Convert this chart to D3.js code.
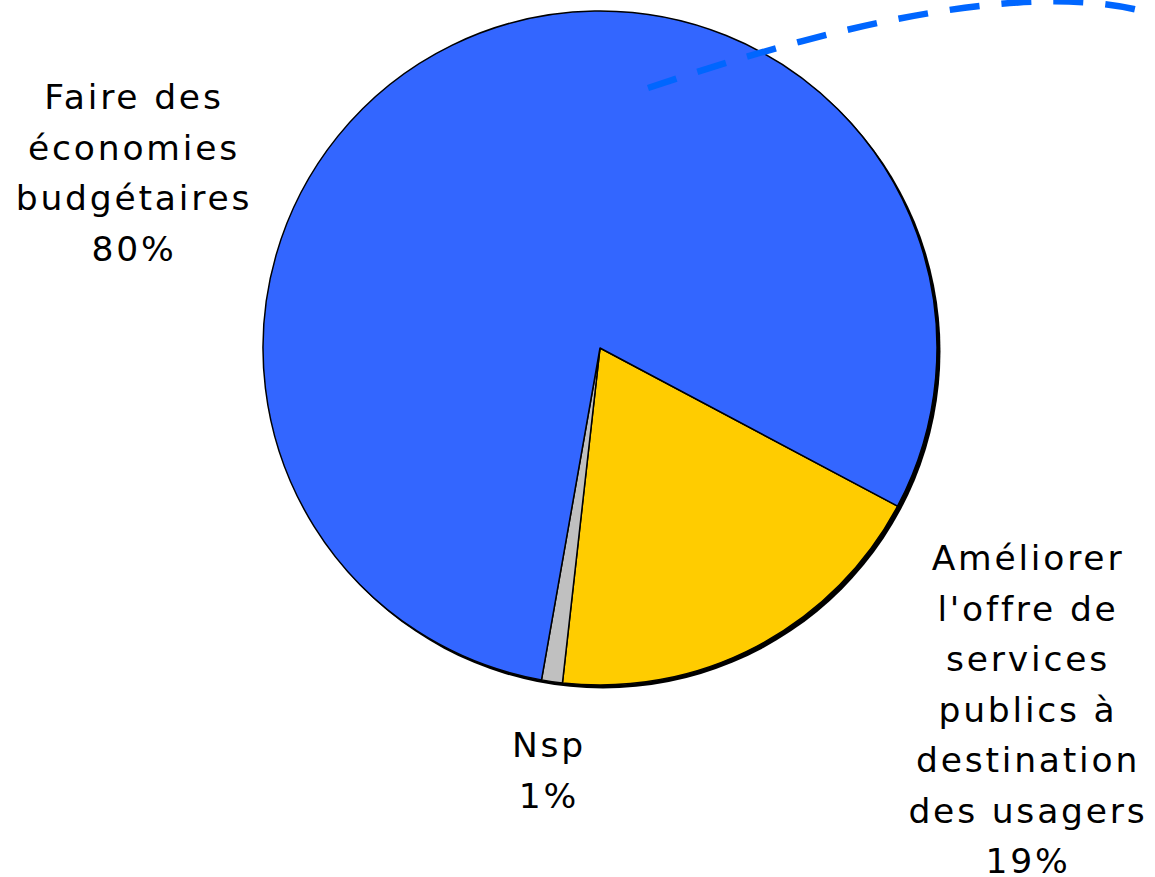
<!DOCTYPE html>
<html>
<head>
<meta charset="utf-8">
<script src="https://cdn.jsdelivr.net/npm/d3@7"></script>
<style>
  html, body { margin: 0; padding: 0; background: #fff; overflow: hidden; }
  text { font-family: "DejaVu Sans", Verdana, sans-serif; }
</style>
</head>
<body>
<script>
const width = 1155;
const height = 877;

// slice order follows the picture, clockwise from the lower right
const categories = ['Améliorer l\'offre de services publics à destination des usagers', 'Nsp', 'Faire des économies budgétaires'];
const values = [19, 1, 80];
const colors = ['#ffcc00', '#c0c0c0', '#3366ff'];

// label lines, as written on the chart
const labelLines = [
    ['Améliorer', 'l\'offre de', 'services', 'publics à', 'destination', 'des usagers', '19%'],
    ['Nsp', '1%'],
    ['Faire des', 'économies', 'budgétaires', '80%']
];

const cx = 600, cy = 348, radius = 337;
const startDeg = 118;

const svg = d3.select('body')
    .append('svg')
    .attr('width', width)
    .attr('height', height);

const pie = d3.pie()
    .sort(null)
    .value(d => d)
    .startAngle(startDeg * Math.PI / 180)
    .endAngle((startDeg + 360) * Math.PI / 180);

const arc = d3.arc()
    .innerRadius(0)
    .outerRadius(radius);

const g = svg.append('g')
    .attr('transform', `translate(${cx},${cy})`);

// drop shadow under the pie
g.append('circle')
    .attr('cx', 3)
    .attr('cy', 3)
    .attr('r', radius + 0.5)
    .attr('fill', '#000');

g.selectAll('.slice')
    .data(pie(values))
    .enter()
    .append('path')
    .attr('class', 'slice')
    .attr('d', arc)
    .attr('fill', (d, i) => colors[i])
    .attr('stroke', '#000')
    .attr('stroke-width', 1.5)
    .attr('stroke-linejoin', 'round');

// labels
const labelPos = [
    { x: 1028, y: 570 },
    { x: 549, y: 757 },
    { x: 134, y: 109 }
];
const lineStep = 50.5;

labelLines.forEach((lines, i) => {
    const t = svg.append('text')
        .attr('text-anchor', 'middle')
        .attr('font-size', 34.5)
        .attr('letter-spacing', 2.8)
        .attr('fill', '#000');
    lines.forEach((line, j) => {
        t.append('tspan')
            .attr('x', labelPos[i].x)
            .attr('y', labelPos[i].y + j * lineStep)
            .text(line);
    });
});

// dashed callout curve
svg.append('path')
    .attr('d', 'M648,88 C820,30 1040,-28 1165,18')
    .attr('fill', 'none')
    .attr('stroke', '#0066ff')
    .attr('stroke-width', 6.5)
    .attr('stroke-dasharray', '30,22');
</script>
</body>
</html>
